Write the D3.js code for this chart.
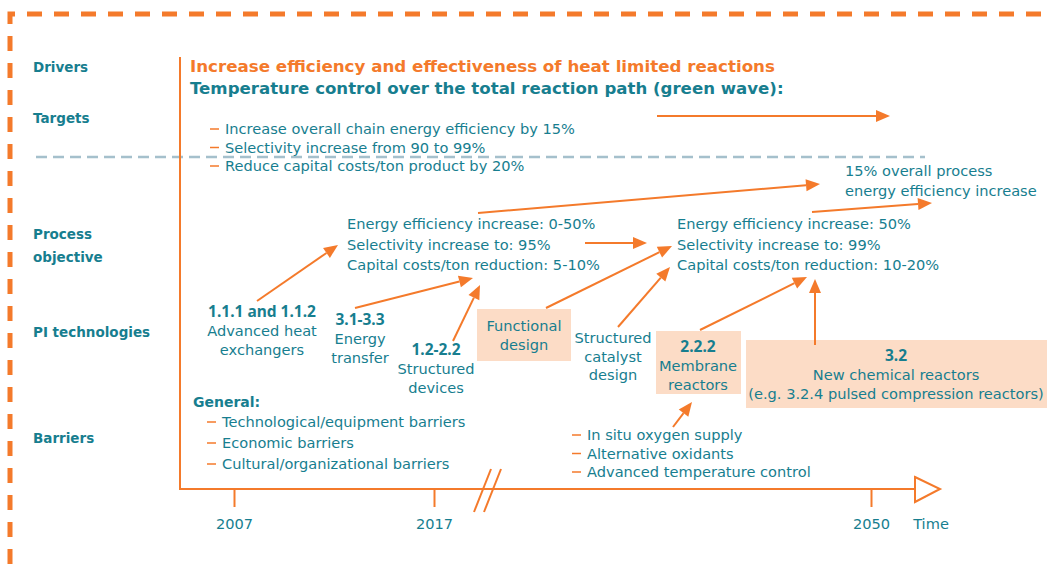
<!DOCTYPE html>
<html>
<head>
<meta charset="utf-8">
<script src="https://cdn.jsdelivr.net/npm/d3@7"></script>
<style>
  body { margin: 0; background: #fff; }
  svg text { font-family: "DejaVu Sans", sans-serif; }
  svg text.code { font-family: "Noto Sans", sans-serif; }
</style>
</head>
<body>
<svg id="chart" width="1053" height="564"></svg>
<script>
// --- data ---
var rowLabels = [['Drivers'], ['Targets'], ['Process', 'objective'], ['PI technologies'], ['Barriers']];
var years = [2007, 2017, 2050];
var driverText = 'Increase efficiency and effectiveness of heat limited reactions';
var waveText = 'Temperature control over the total reaction path (green wave):';
var targets = ['Increase overall chain energy efficiency by 15%', 'Selectivity increase from 90 to 99%', 'Reduce capital costs/ton product by 20%'];
var objective1 = ['Energy efficiency increase: 0-50%', 'Selectivity increase to: 95%', 'Capital costs/ton reduction: 5-10%'];
var objective2 = ['Energy efficiency increase: 50%', 'Selectivity increase to: 99%', 'Capital costs/ton reduction: 10-20%'];
var finalGoal = ['15% overall process', 'energy efficiency increase'];
var technologies = [
  { code: '1.1.1 and 1.1.2', name: ['Advanced heat', 'exchangers'], box: false },
  { code: '3.1-3.3', name: ['Energy', 'transfer'], box: false },
  { code: '1.2-2.2', name: ['Structured', 'devices'], box: false },
  { code: null, name: ['Functional', 'design'], box: true },
  { code: null, name: ['Structured', 'catalyst', 'design'], box: false },
  { code: '2.2.2', name: ['Membrane', 'reactors'], box: true },
  { code: '3.2', name: ['New chemical reactors', '(e.g. 3.2.4 pulsed compression reactors)'], box: true }
];
var generalBarriers = ['Technological/equipment barriers', 'Economic barriers', 'Cultural/organizational barriers'];
var specificBarriers = ['In situ oxygen supply', 'Alternative oxidants', 'Advanced temperature control'];

// --- layout ---
var teal = '#177e8f', orange = '#f47a2b', boxFill = '#fcdcc6', grey = '#a5c0cc';
var fs = 14.6, fsTitle = 16.7;
var svg = d3.select('#chart');

var rowY = [67, 118, 234, 332, 438];
var techPos = [
  { x: 262, y: 317 }, { x: 360, y: 325 }, { x: 436, y: 355 },
  { x: 524, y: 331, bx: 477, by: 309, bw: 94, bh: 52 },
  { x: 613, y: 343 },
  { x: 698, y: 352, bx: 656, by: 331, bw: 85, bh: 63 },
  { x: 896, y: 361, bx: 746, by: 340, bw: 301, bh: 68 }
];
// arrows: [x1, y1, tipX, tipY]
var arrows = [
  [657, 116, 890, 116],
  [478, 213, 820, 184],
  [812, 212, 932, 203],
  [585, 243, 647, 243],
  [257, 301, 338, 245],
  [355, 308, 473, 278],
  [453, 341, 480, 285],
  [546, 308, 672, 246],
  [618, 327, 670, 267],
  [700, 330, 807, 277],
  [815, 345, 815, 279],
  [673, 427, 692, 402]
];

var x = d3.scaleLinear().domain(years).range([234, 434, 871]);
var axisY = 489;

// frame
svg.append('path')
  .attr('d', 'M10,564 L10,14 L1053,14')
  .attr('fill', 'none').attr('stroke', orange)
  .attr('stroke-width', 5).attr('stroke-dasharray', '15,12');

// row labels
rowLabels.forEach(function (lines, i) {
  var t = svg.append('text').attr('x', 33).attr('y', rowY[i] + 5)
    .attr('fill', teal).attr('font-size', 13.5).attr('font-weight', 'bold');
  lines.forEach(function (l, j) {
    t.append('tspan').attr('x', 33).attr('dy', j ? 23 : 0).text(l);
  });
});

// dashed separator
svg.append('line').attr('x1', 36).attr('x2', 925).attr('y1', 157).attr('y2', 157)
  .attr('stroke', grey).attr('stroke-width', 2.5).attr('stroke-dasharray', '11,6');

// axes
svg.append('line').attr('x1', 180).attr('x2', 180).attr('y1', 57).attr('y2', axisY)
  .attr('stroke', orange).attr('stroke-width', 2);
svg.append('line').attr('x1', 179).attr('x2', 915).attr('y1', axisY).attr('y2', axisY)
  .attr('stroke', orange).attr('stroke-width', 2);
svg.append('path').attr('d', 'M915,477 L940,489 L915,502 Z')
  .attr('fill', '#fff').attr('stroke', orange).attr('stroke-width', 2);

var axis = svg.append('g').attr('transform', 'translate(0,' + axisY + ')')
  .call(d3.axisBottom(x).tickValues(years).tickFormat(d3.format('d')).tickSize(18).tickPadding(12));
axis.select('.domain').remove();
axis.selectAll('.tick line').attr('stroke', orange).attr('stroke-width', 2);
axis.selectAll('.tick text').attr('fill', teal).attr('font-size', fs)
  .style('font-family', '"DejaVu Sans", sans-serif');
svg.append('text').attr('x', 931).attr('y', 529).attr('text-anchor', 'middle')
  .attr('fill', teal).attr('font-size', fs).text('Time');

// axis break
[0, 10].forEach(function (o) {
  svg.append('line').attr('x1', 474 + o).attr('y1', 512).attr('x2', 491 + o).attr('y2', 469)
    .attr('stroke', orange).attr('stroke-width', 2);
});

// drivers
svg.append('text').attr('x', 190).attr('y', 72).attr('fill', orange)
  .attr('font-size', fsTitle).attr('font-weight', 'bold').text(driverText);
svg.append('text').attr('x', 190).attr('y', 94).attr('fill', teal)
  .attr('font-size', 16.6).attr('font-weight', 'bold').text(waveText);

function bullets(list, x0, y0, dy) {
  list.forEach(function (s, i) {
    var y = y0 + i * dy;
    svg.append('line').attr('x1', x0 - 15).attr('x2', x0 - 6).attr('y1', y - 5).attr('y2', y - 5)
      .attr('stroke', orange).attr('stroke-width', 1.5);
    svg.append('text').attr('x', x0).attr('y', y).attr('fill', teal).attr('font-size', fs).text(s);
  });
}
function block(list, x0, y0, dy, anchor) {
  list.forEach(function (s, i) {
    svg.append('text').attr('x', x0).attr('y', y0 + i * dy).attr('fill', teal)
      .attr('font-size', fs).attr('text-anchor', anchor || 'start').text(s);
  });
}

bullets(targets, 225, 134, 18.5);
block(objective1, 347, 229, 20.5);
block(objective2, 677, 229, 20.5);
block(finalGoal, 845, 176, 20);

// technologies
technologies.forEach(function (t, i) {
  var p = techPos[i];
  if (t.box) {
    svg.append('rect').attr('x', p.bx).attr('y', p.by).attr('width', p.bw).attr('height', p.bh)
      .attr('fill', boxFill);
  }
  var y = p.y;
  if (t.code) {
    svg.append('text').attr('class', 'code').attr('x', p.x).attr('y', y).attr('text-anchor', 'middle')
      .attr('fill', teal).attr('font-size', 15.5).attr('font-weight', 'bold').text(t.code);
    y += 19;
  }
  block(t.name, p.x, y, 18.5, 'middle');
});

// barriers
svg.append('text').attr('x', 193).attr('y', 407).attr('fill', teal)
  .attr('font-size', 14).attr('font-weight', 'bold').text('General:');
bullets(generalBarriers, 222, 427, 21);
bullets(specificBarriers, 587, 440, 18.5);

// arrows
arrows.forEach(function (a) {
  var dx = a[2] - a[0], dy = a[3] - a[1], len = Math.sqrt(dx * dx + dy * dy);
  var ux = dx / len, uy = dy / len, hl = 14, hw = 6;
  var bx = a[2] - ux * hl, by = a[3] - uy * hl;
  svg.append('line').attr('x1', a[0]).attr('y1', a[1]).attr('x2', bx).attr('y2', by)
    .attr('stroke', orange).attr('stroke-width', 2);
  svg.append('path')
    .attr('d', 'M' + a[2] + ',' + a[3] + ' L' + (bx - uy * hw) + ',' + (by + ux * hw) +
      ' L' + (bx + uy * hw) + ',' + (by - ux * hw) + ' Z')
    .attr('fill', orange);
});
</script>
</body>
</html>
